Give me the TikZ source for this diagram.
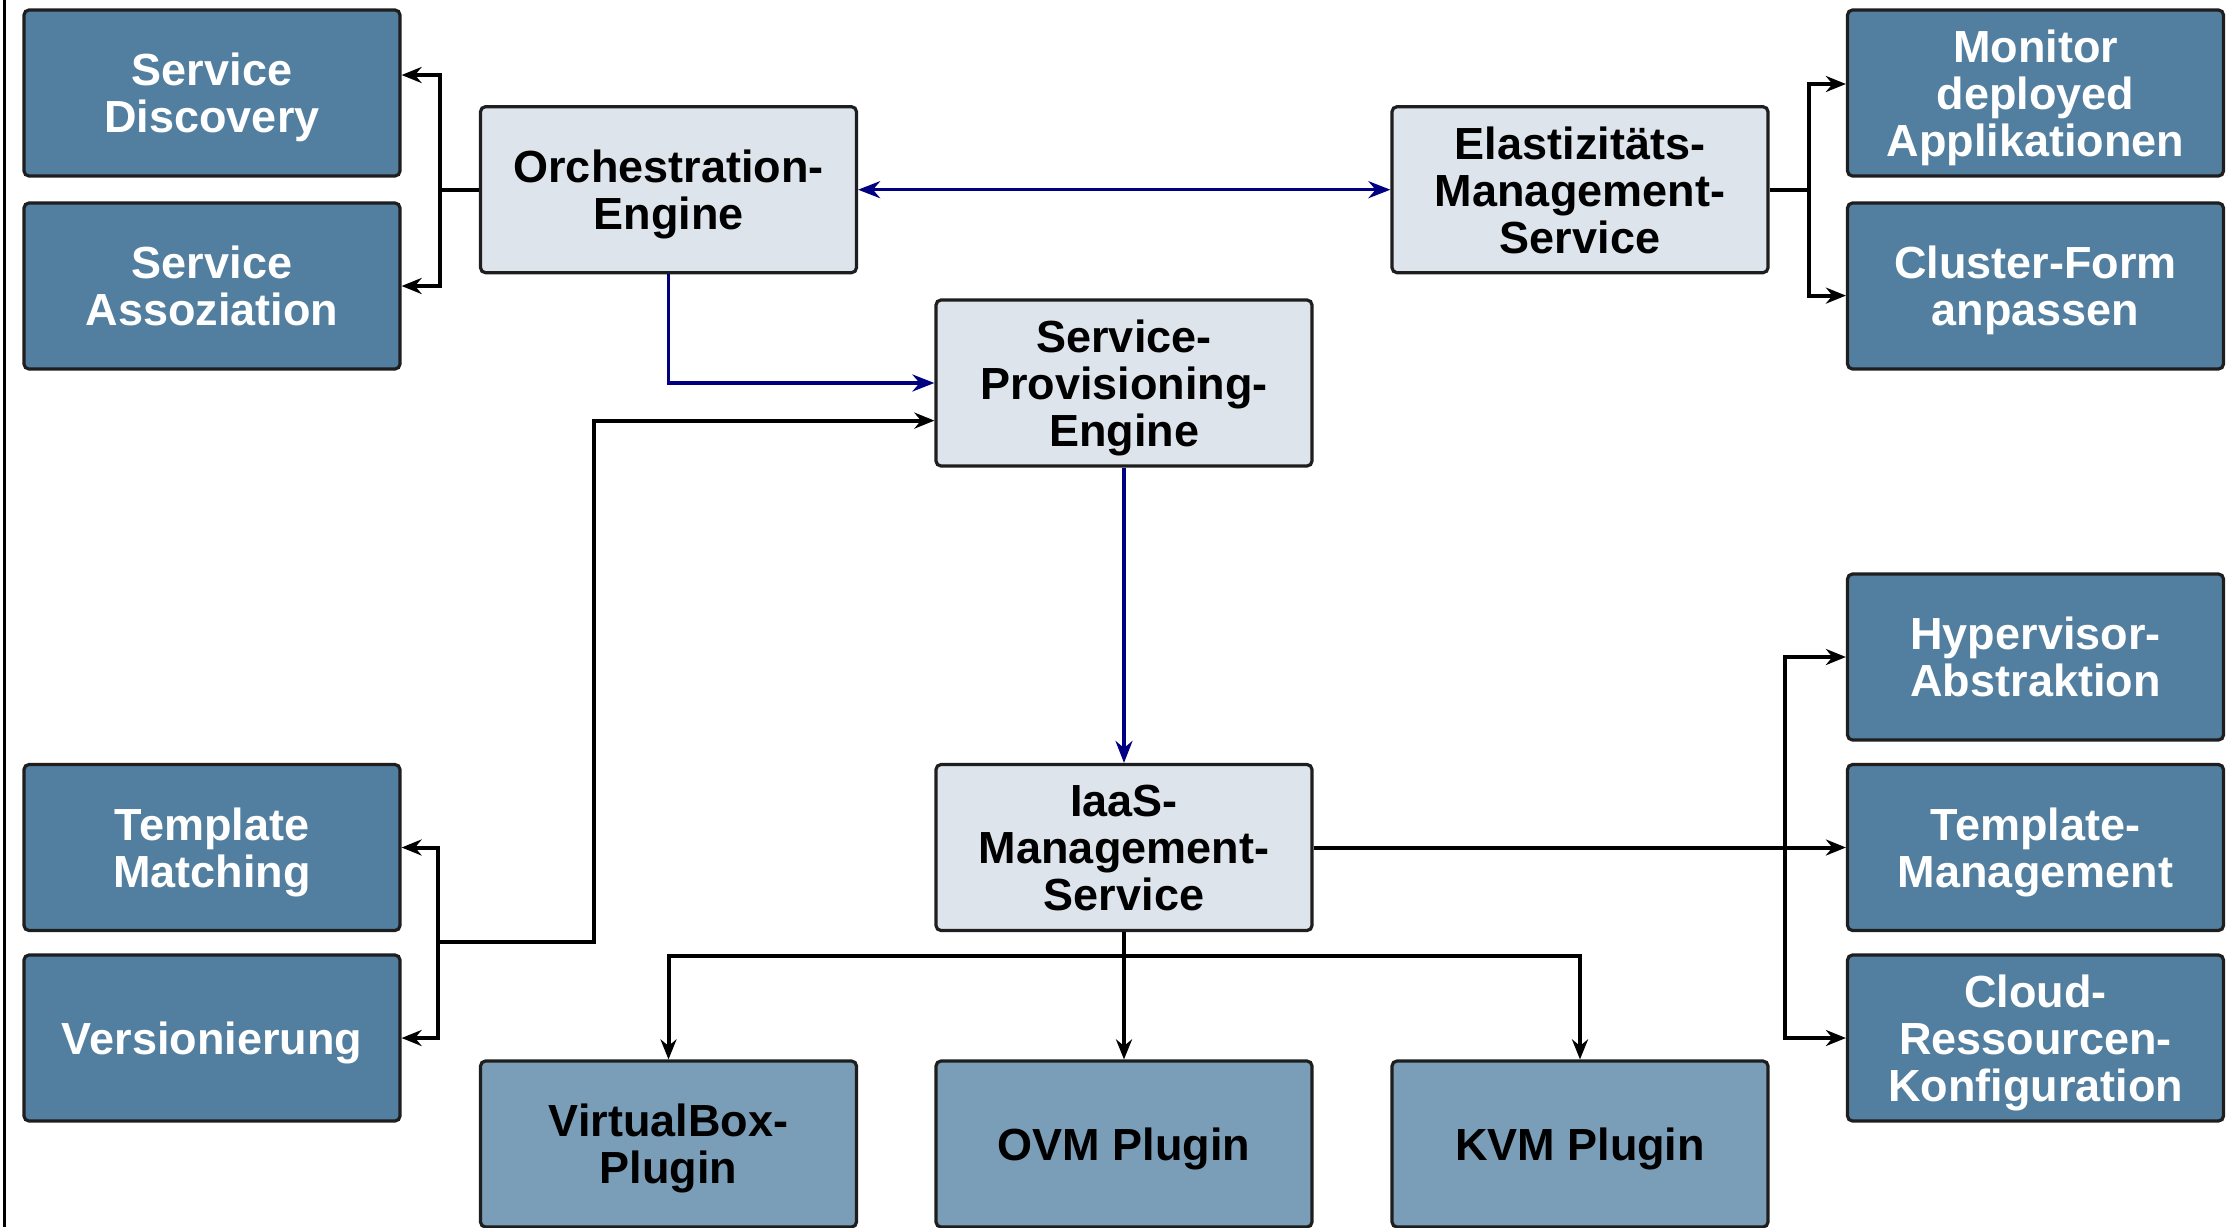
\documentclass[tikz,border=0pt]{standalone}
\usepackage{fontspec}
\setmainfont{Liberation Sans}
\usetikzlibrary{arrows.meta}
\definecolor{modfill}{HTML}{527F9F}
\definecolor{corefill}{HTML}{DDE4EC}
\definecolor{plugfill}{HTML}{7A9DB8}
\definecolor{flowblue}{HTML}{000080}
\definecolor{edgegray}{HTML}{1E1E1E}

\begin{document}
\begin{tikzpicture}[x=0.5pt,y=-0.5pt,
  box/.style={draw=edgegray, line width=1.6pt, rounded corners=2.5pt,
    minimum width=188pt, minimum height=83pt, align=center, inner sep=0pt,
    text depth=0pt, font=\fontsize{22.5}{23.5}\selectfont\bfseries},
  module/.style={box, fill=modfill, text=white},
  core/.style={box, fill=corefill, text=black},
  plugin/.style={box, fill=plugfill, text=black},
  wire/.style={line width=2pt, draw=black},
  link/.style={wire, -{Stealth[length=10pt,width=8pt]}},
  flow/.style={line width=1.7pt, draw=flowblue, -{Stealth[length=11pt,width=8.5pt]}},
  flowboth/.style={flow, {Stealth[length=11pt,width=8.5pt]}-{Stealth[length=11pt,width=8.5pt]}},
]
\useasboundingbox (0,0) rectangle (2228,1227);

% frame line on the left edge
\draw[line width=1.5pt] (4,0) -- (4,1227);

% left column
\node[module] (sd)  at (212,93)    {Service\\Discovery};
\node[module] (sa)  at (212,286)   {Service\\Assoziation};
\node[module] (tm)  at (212,847.5) {Template\\Matching};
\node[module] (ver) at (212,1038)  {Versionierung};

% central components
\node[core] (orch)  at (668.5,189.7) {Orchestration-\\Engine};
\node[core] (elast) at (1580,189.7)  {Elastizitäts-\\Management-\\Service};
\node[core] (spe)   at (1124,383)    {Service-\\Provisioning-\\Engine};
\node[core] (iaas)  at (1124,847.5)  {IaaS-\\Management-\\Service};

% hypervisor plugins
\node[plugin] (vb)  at (668.5,1144) {VirtualBox-\\Plugin};
\node[plugin] (ovm) at (1124,1144)  {OVM Plugin};
\node[plugin] (kvm) at (1580,1144)  {KVM Plugin};

% right column
\node[module] (mon)   at (2035.5,93)    {Monitor\\deployed\\Applikationen};
\node[module] (clu)   at (2035.5,286)   {Cluster-Form\\anpassen};
\node[module] (hyp)   at (2035.5,657)   {Hypervisor-\\Abstraktion};
\node[module] (tmg)   at (2035.5,847.5) {Template-\\Management};
\node[module] (cloud) at (2035.5,1038)  {Cloud-\\Ressourcen-\\Konfiguration};

% orchestration engine branches
\coordinate (jo) at (440,189.7);
\draw[wire] (orch.west) -- (jo);
\draw[link] (jo) |- ([yshift=9pt]sd.east);
\draw[link] (jo) |- (sa.east);

% elasticity service branches
\coordinate (je) at (1809,189.7);
\draw[wire] (elast.east) -- (je);
\draw[link] (je) |- ([yshift=4.5pt]mon.west);
\draw[link] (je) |- ([yshift=-4.8pt]clu.west);

% main control flow
\draw[flowboth] (orch.east) -- (elast.west);
\draw[flow] (orch.south) |- (spe.west);
\draw[flow] (spe.south) -- (iaas.north);

% template handling
\coordinate (jt) at (437.6,942);
\coordinate (up) at (594,942);
\draw[link] (jt) |- (tm.east);
\draw[link] (jt) |- (ver.east);
\draw[link] (jt) -- (up) |- ([yshift=-18.8pt]spe.west);

% IaaS management branches
\coordinate (jr) at (1784.7,847.5);
\draw[link] (iaas.east) -- (tmg.west);
\draw[link] (jr) |- (hyp.west);
\draw[link] (jr) |- (cloud.west);

% plugin bus
\coordinate (jb) at (1124,956);
\draw[wire] (iaas.south) -- (jb);
\draw[link] (jb) -| (vb.north);
\draw[link] (jb) -- (ovm.north);
\draw[link] (jb) -| (kvm.north);
\end{tikzpicture}
\end{document}
